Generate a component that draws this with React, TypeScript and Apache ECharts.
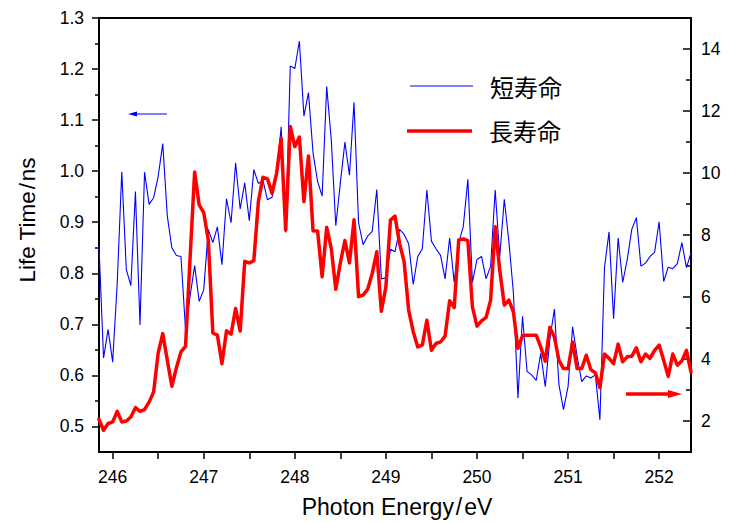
import React, { useEffect, useRef } from "react";
import * as echarts from "echarts";

// Photon energy (eV) for each sample
const energies: number[] = [
  245.85, 245.9, 245.95, 246.0, 246.05, 246.1, 246.15, 246.2, 246.25, 246.3,
  246.35, 246.4, 246.45, 246.5, 246.55, 246.6, 246.65, 246.7, 246.75, 246.8,
  246.85, 246.9, 246.95, 247.0, 247.05, 247.1, 247.15, 247.2, 247.25, 247.3,
  247.35, 247.4, 247.45, 247.5, 247.55, 247.6, 247.65, 247.7, 247.75, 247.8,
  247.85, 247.9, 247.95, 248.0, 248.05, 248.1, 248.15, 248.2, 248.25, 248.3,
  248.35, 248.4, 248.45, 248.5, 248.55, 248.6, 248.65, 248.7, 248.75, 248.8,
  248.85, 248.9, 248.95, 249.0, 249.05, 249.1, 249.15, 249.2, 249.25, 249.3,
  249.35, 249.4, 249.45, 249.5, 249.55, 249.6, 249.65, 249.7, 249.75, 249.8,
  249.85, 249.9, 249.95, 250.0, 250.05, 250.1, 250.15, 250.2, 250.25, 250.3,
  250.35, 250.4, 250.45, 250.5, 250.55, 250.6, 250.65, 250.7, 250.75, 250.8,
  250.85, 250.9, 250.95, 251.0, 251.05, 251.1, 251.15, 251.2, 251.25, 251.3,
  251.35, 251.4, 251.45, 251.5, 251.55, 251.6, 251.65, 251.7, 251.75, 251.8,
  251.85, 251.9, 251.95, 252.0, 252.05, 252.1, 252.15, 252.2, 252.25, 252.3,
  252.35,
];

// 短寿命 (left axis, ns)
const shortLife: number[] = [
  0.853, 0.634, 0.69, 0.626, 0.78, 0.999, 0.807, 0.776, 0.96, 0.699,
  0.998, 0.935, 0.948, 0.99, 1.054, 0.912, 0.85, 0.835, 0.833, 0.69,
  0.755, 0.815, 0.745, 0.768, 0.886, 0.86, 0.891, 0.817, 0.946, 0.899,
  1.016, 0.926, 0.977, 0.903, 1.003, 0.976, 0.982, 0.944, 0.949, 0.99,
  1.087, 0.88, 1.206, 1.201, 1.255, 1.108, 1.154, 1.036, 0.98, 0.951,
  1.166, 1.062, 0.893, 0.977, 1.057, 0.992, 1.135, 0.899, 0.856, 0.873,
  0.882, 0.964, 0.789, 0.791, 0.847, 0.842, 0.886, 0.876, 0.858, 0.778,
  0.833, 0.848, 0.963, 0.863, 0.848, 0.835, 0.789, 0.869, 0.782, 0.86,
  0.892, 0.984, 0.782, 0.827, 0.833, 0.789, 0.814, 0.963, 0.833, 0.945,
  0.863, 0.762, 0.556, 0.716, 0.608, 0.601, 0.59, 0.643, 0.578, 0.67,
  0.73, 0.582, 0.533, 0.578, 0.695, 0.637, 0.588, 0.599, 0.595, 0.601,
  0.513, 0.811, 0.881, 0.711, 0.869, 0.782, 0.827, 0.886, 0.909, 0.814,
  0.82, 0.833, 0.841, 0.901, 0.784, 0.812, 0.809, 0.819, 0.86, 0.811,
  0.84,
];

// 長寿命 (right axis)
const longLife: number[] = [
  2.05, 1.7, 1.92, 1.97, 2.31, 1.97, 2.0, 2.13, 2.43, 2.31,
  2.37, 2.61, 2.94, 4.2, 4.82, 3.96, 3.12, 3.72, 4.23, 4.41,
  7.25, 10.03, 8.97, 8.72, 7.84, 4.84, 4.77, 3.85, 4.91, 4.8,
  5.63, 4.9, 7.15, 7.1, 7.17, 9.08, 9.86, 9.81, 9.35, 9.99,
  11.12, 8.16, 11.5, 10.85, 11.16, 9.08, 10.55, 8.14, 8.13, 6.65,
  8.25, 7.57, 6.25, 7.1, 7.82, 7.1, 8.49, 6.01, 6.06, 6.25,
  6.76, 7.46, 5.54, 6.33, 8.48, 8.61, 7.73, 7.14, 5.58, 4.88,
  4.39, 4.45, 5.25, 4.28, 4.5, 4.55, 4.74, 5.88, 5.66, 7.84,
  7.87, 7.82, 5.68, 5.06, 5.23, 5.34, 5.9, 8.27, 6.87, 5.74,
  5.9, 5.52, 4.34, 4.75, 4.77, 4.77, 4.77, 4.39, 3.93, 5.02,
  4.71, 3.96, 3.69, 3.69, 4.55, 3.69, 3.69, 4.12, 3.66, 3.55,
  3.08, 4.16, 4.02, 3.85, 4.48, 3.91, 4.07, 4.09, 4.36, 3.91,
  4.16, 4.02, 4.28, 4.45, 3.96, 3.44, 4.16, 3.8, 3.94, 4.28,
  3.58,
];

const seriesNames = ["短寿命", "長寿命"];

const xLabelValues = [246, 247, 248, 249, 250, 251, 252];
const xTickValues = [246, 246.5, 247, 247.5, 248, 248.5, 249, 249.5, 250, 250.5, 251, 251.5, 252];
const leftLabelValues = [0.5, 0.6, 0.7, 0.8, 0.9, 1.0, 1.1, 1.2, 1.3];
const leftMinorValues = [0.55, 0.65, 0.75, 0.85, 0.95, 1.05, 1.15, 1.25];
const rightLabelValues = [2, 4, 6, 8, 10, 12, 14];
const rightMinorValues = [3, 5, 7, 9, 11, 13];

const FONT = "'Liberation Sans', Arial, Helvetica, sans-serif";
const CJK = "'Noto Sans CJK JP', 'Noto Sans CJK SC', sans-serif";

export default function App() {
  const ref = useRef<HTMLDivElement>(null);

  useEffect(() => {
    if (!ref.current) return;
    const chart = echarts.init(ref.current, null, { renderer: "svg" });

    const shortData = energies.map((e, i) => [e, shortLife[i]]);
    const longData = energies.map((e, i) => [e, longLife[i]]);

    const labelStyle = { color: "#000", fontSize: 17.5, fontFamily: FONT };
    const axisLineStyle = { color: "#000", width: 2 };

    const option: any = {
      animation: false,
      backgroundColor: "#fff",
      grid: {
        left: 99,
        right: 48,
        top: 18,
        bottom: 71,
        containLabel: false,
        outerBoundsMode: "none",
        show: true,
        borderColor: "#000",
        borderWidth: 2,
        backgroundColor: "transparent",
      },
      xAxis: [
        {
          type: "value",
          min: 245.85,
          max: 252.35,
          position: "bottom",
          axisLine: { show: true, onZero: false, lineStyle: axisLineStyle },
          axisTick: {
            show: true,
            inside: false,
            length: 7,
            customValues: xTickValues,
            lineStyle: { color: "#000", width: 1.5 },
          },
          axisLabel: {
            ...labelStyle,
            margin: 16,
            customValues: xLabelValues,
            formatter: (v: number) => String(Math.round(v)),
          },
          splitLine: { show: false },
        },
      ],
      yAxis: [
        {
          type: "value",
          min: 0.45,
          max: 1.3,
          position: "left",
          axisLine: { show: true, onZero: false, lineStyle: axisLineStyle },
          axisTick: {
            show: true,
            inside: false,
            length: 7,
            customValues: leftLabelValues,
            lineStyle: { color: "#000", width: 1.5 },
          },
          axisLabel: {
            ...labelStyle,
            margin: 15,
            customValues: leftLabelValues,
            formatter: (v: number) => v.toFixed(1),
          },
          splitLine: { show: false },
        },
        {
          type: "value",
          min: 1,
          max: 15,
          position: "right",
          axisLine: { show: true, onZero: false, lineStyle: axisLineStyle },
          axisTick: {
            show: true,
            inside: true,
            length: 8,
            customValues: rightLabelValues,
            lineStyle: { color: "#000", width: 1.5 },
          },
          axisLabel: {
            ...labelStyle,
            margin: 10,
            customValues: rightLabelValues,
            formatter: (v: number) => String(Math.round(v)),
          },
          splitLine: { show: false },
        },
        {
          type: "value",
          min: 0.45,
          max: 1.3,
          position: "left",
          axisLine: { show: false },
          axisTick: {
            show: true,
            inside: false,
            length: 4,
            customValues: leftMinorValues,
            lineStyle: { color: "#000", width: 1.5 },
          },
          axisLabel: { show: false },
          splitLine: { show: false },
        },
        {
          type: "value",
          min: 1,
          max: 15,
          position: "right",
          axisLine: { show: false },
          axisTick: {
            show: true,
            inside: true,
            length: 5,
            customValues: rightMinorValues,
            lineStyle: { color: "#000", width: 1.5 },
          },
          axisLabel: { show: false },
          splitLine: { show: false },
        },
      ],
      series: [
        {
          name: seriesNames[0],
          type: "line",
          xAxisIndex: 0,
          yAxisIndex: 0,
          data: shortData,
          showSymbol: false,
          symbol: "none",
          lineStyle: { color: "#0000ff", width: 1.1 },
          itemStyle: { color: "#0000ff" },
          z: 2,
        },
        {
          name: seriesNames[1],
          type: "line",
          xAxisIndex: 0,
          yAxisIndex: 1,
          data: longData,
          showSymbol: false,
          symbol: "none",
          lineStyle: { color: "#ff0000", width: 3.5, join: "round", cap: "round" },
          itemStyle: { color: "#ff0000" },
          z: 3,
        },
      ],
      graphic: {
        elements: [
          // axis titles
          {
            type: "text",
            x: 397,
            y: 507,
            style: {
              text: "Photon Energy\u200A/\u200AeV",
              fontSize: 23,
              fontFamily: FONT,
              fill: "#000",
              align: "center",
              verticalAlign: "middle",
              textAlign: "center",
              textVerticalAlign: "middle",
            },
          },
          {
            type: "text",
            x: 27,
            y: 220,
            rotation: Math.PI / 2,
            style: {
              text: "Life Time\u200A/\u200Ans",
              fontSize: 22.5,
              fontFamily: FONT,
              fill: "#000",
              align: "center",
              verticalAlign: "middle",
              textAlign: "center",
              textVerticalAlign: "middle",
            },
          },
          // legend
          {
            type: "line",
            shape: { x1: 410, y1: 86, x2: 473, y2: 86 },
            style: { stroke: "#0000ff", lineWidth: 1.2 },
          },
          {
            type: "text",
            x: 490,
            y: 86,
            style: {
              text: seriesNames[0],
              fontSize: 24,
              fontFamily: CJK,
              fill: "#000",
              align: "left",
              verticalAlign: "middle",
              textAlign: "left",
              textVerticalAlign: "middle",
            },
          },
          {
            type: "line",
            shape: { x1: 407, y1: 131, x2: 472, y2: 131 },
            style: { stroke: "#ff0000", lineWidth: 3.5 },
          },
          {
            type: "text",
            x: 489,
            y: 130,
            style: {
              text: seriesNames[1],
              fontSize: 24,
              fontFamily: CJK,
              fill: "#000",
              align: "left",
              verticalAlign: "middle",
              textAlign: "left",
              textVerticalAlign: "middle",
            },
          },
          // blue arrow (points left)
          {
            type: "line",
            shape: { x1: 167, y1: 114, x2: 134, y2: 114 },
            style: { stroke: "#0000ff", lineWidth: 1.2 },
          },
          {
            type: "polygon",
            shape: { points: [[128, 114], [137, 111.5], [137, 116.5]] },
            style: { fill: "#0000ff" },
          },
          // red arrow (points right)
          {
            type: "line",
            shape: { x1: 626, y1: 394, x2: 670, y2: 394 },
            style: { stroke: "#ff0000", lineWidth: 3.5 },
          },
          {
            type: "polygon",
            shape: { points: [[682, 394], [668, 390], [668, 398]] },
            style: { fill: "#ff0000" },
          },
        ],
      },
    };

    chart.setOption(option);
    return () => chart.dispose();
  }, []);

  return (
    <div
      ref={ref}
      style={{ position: "fixed", left: 0, top: 0, width: 739, height: 523, background: "#fff" }}
    />
  );
}
